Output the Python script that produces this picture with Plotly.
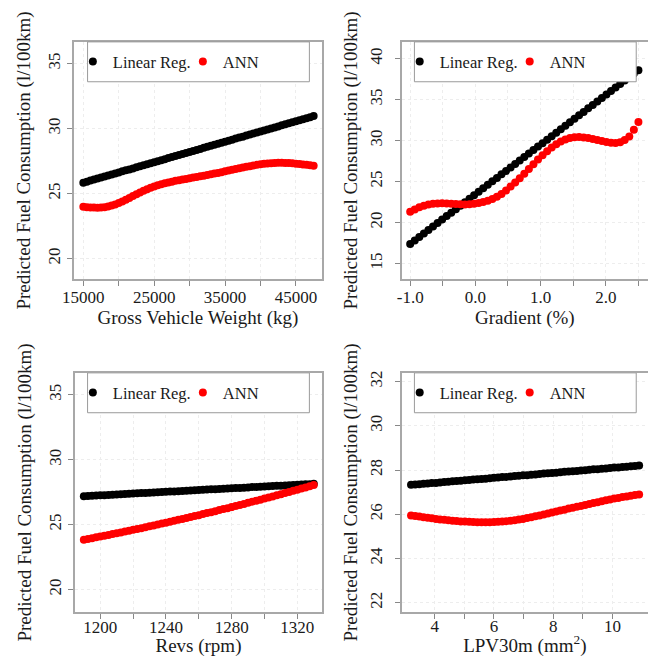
import plotly.graph_objects as go

# ---------------- DATA ----------------
# Panel 1: Gross Vehicle Weight (kg)
gvw_x = [15000, 15500, 16000, 16500, 17000, 17500, 18000, 18500, 19000, 19500,
         20000, 20500, 21000, 21500, 22000, 22500, 23000, 23500, 24000, 24500,
         25000, 25500, 26000, 26500, 27000, 27500, 28000, 28500, 29000, 29500,
         30000, 30500, 31000, 31500, 32000, 32500, 33000, 33500, 34000, 34500,
         35000, 35500, 36000, 36500, 37000, 37500, 38000, 38500, 39000, 39500,
         40000, 40500, 41000, 41500, 42000, 42500, 43000, 43500, 44000, 44500,
         45000, 45500, 46000, 46500, 47000, 47500]
gvw_lin = [25.83, 25.91, 25.99, 26.07, 26.15, 26.22, 26.30, 26.38, 26.46, 26.54,
           26.62, 26.70, 26.78, 26.85, 26.93, 27.01, 27.09, 27.17, 27.25, 27.33,
           27.41, 27.48, 27.56, 27.64, 27.72, 27.80, 27.88, 27.96, 28.04, 28.11,
           28.19, 28.27, 28.35, 28.43, 28.51, 28.59, 28.67, 28.74, 28.82, 28.90,
           28.98, 29.06, 29.14, 29.22, 29.30, 29.37, 29.45, 29.53, 29.61, 29.69,
           29.77, 29.85, 29.93, 30.00, 30.08, 30.16, 30.24, 30.32, 30.40, 30.48,
           30.56, 30.63, 30.71, 30.79, 30.87, 30.95]
gvw_ann = [23.98, 23.95, 23.93, 23.92, 23.91, 23.92, 23.95, 24.00, 24.07, 24.16,
           24.27, 24.39, 24.52, 24.66, 24.80, 24.94, 25.08, 25.21, 25.33, 25.44,
           25.54, 25.63, 25.71, 25.78, 25.85, 25.91, 25.97, 26.02, 26.07, 26.12,
           26.17, 26.22, 26.27, 26.32, 26.37, 26.42, 26.47, 26.53, 26.58, 26.64,
           26.70, 26.76, 26.82, 26.88, 26.94, 27.00, 27.05, 27.10, 27.15, 27.20,
           27.24, 27.28, 27.31, 27.33, 27.35, 27.36, 27.36, 27.35, 27.34, 27.32,
           27.29, 27.26, 27.23, 27.20, 27.17, 27.13]

# Panel 2: Gradient (%)
grad_x = [-1.00, -0.93, -0.86, -0.79, -0.72, -0.65, -0.58, -0.51, -0.44, -0.37,
          -0.30, -0.23, -0.16, -0.09, -0.02, 0.05, 0.12, 0.19, 0.26, 0.33,
          0.40, 0.47, 0.54, 0.61, 0.68, 0.75, 0.82, 0.89, 0.96, 1.03,
          1.10, 1.17, 1.24, 1.31, 1.38, 1.45, 1.52, 1.59, 1.66, 1.73,
          1.80, 1.87, 1.94, 2.01, 2.08, 2.15, 2.22, 2.29, 2.36, 2.43, 2.50]
grad_lin = [17.39, 17.81, 18.24, 18.66, 19.09, 19.51, 19.93, 20.36, 20.78, 21.20,
            21.63, 22.05, 22.48, 22.90, 23.32, 23.75, 24.17, 24.59, 25.02, 25.44,
            25.87, 26.29, 26.71, 27.14, 27.56, 27.99, 28.41, 28.83, 29.26, 29.68,
            30.10, 30.53, 30.95, 31.38, 31.80, 32.22, 32.65, 33.07, 33.49, 33.92,
            34.34, 34.77, 35.19, 35.61, 36.04, 36.46, 36.88, 37.31, 37.73, 38.16, 38.58]
grad_ann = [21.30, 21.60, 21.85, 22.05, 22.20, 22.28, 22.33, 22.34, 22.32, 22.29,
            22.25, 22.22, 22.21, 22.22, 22.28, 22.38, 22.50, 22.66, 22.88, 23.15,
            23.48, 23.90, 24.38, 24.88, 25.40, 25.95, 26.52, 27.10, 27.67, 28.20,
            28.70, 29.15, 29.55, 29.88, 30.12, 30.30, 30.40, 30.42, 30.38, 30.30,
            30.18, 30.05, 29.93, 29.82, 29.74, 29.70, 29.80, 30.05, 30.50, 31.30, 32.25]

# Panel 3: Revs (rpm)
revs_x = [1190, 1192.5, 1195, 1197.5, 1200, 1202.5, 1205, 1207.5, 1210, 1212.5,
          1215, 1217.5, 1220, 1222.5, 1225, 1227.5, 1230, 1232.5, 1235, 1237.5,
          1240, 1242.5, 1245, 1247.5, 1250, 1252.5, 1255, 1257.5, 1260, 1262.5,
          1265, 1267.5, 1270, 1272.5, 1275, 1277.5, 1280, 1282.5, 1285, 1287.5,
          1290, 1292.5, 1295, 1297.5, 1300, 1302.5, 1305, 1307.5, 1310, 1312.5,
          1315, 1317.5, 1320, 1322.5, 1325, 1327.5, 1330]
revs_lin = [27.19, 27.21, 27.22, 27.24, 27.26, 27.27, 27.29, 27.31, 27.33, 27.34,
            27.36, 27.38, 27.39, 27.41, 27.43, 27.44, 27.46, 27.48, 27.50, 27.51,
            27.53, 27.55, 27.56, 27.58, 27.60, 27.61, 27.63, 27.65, 27.66, 27.68,
            27.70, 27.72, 27.73, 27.75, 27.77, 27.78, 27.80, 27.82, 27.83, 27.85,
            27.87, 27.89, 27.90, 27.92, 27.94, 27.95, 27.97, 27.99, 28.00, 28.02,
            28.04, 28.06, 28.07, 28.09, 28.11, 28.12, 28.14]
revs_ann = [23.84, 23.90, 23.96, 24.02, 24.08, 24.15, 24.21, 24.27, 24.34, 24.40,
            24.47, 24.53, 24.60, 24.67, 24.73, 24.80, 24.87, 24.94, 25.01, 25.08,
            25.15, 25.22, 25.29, 25.37, 25.44, 25.51, 25.59, 25.66, 25.73, 25.81,
            25.89, 25.96, 26.04, 26.12, 26.20, 26.27, 26.35, 26.43, 26.51, 26.59,
            26.68, 26.76, 26.84, 26.92, 27.01, 27.09, 27.17, 27.26, 27.35, 27.43,
            27.52, 27.61, 27.69, 27.78, 27.87, 27.96, 28.05]

# Panel 4: LPV30m (mm^2)
lpv_x = [3.20, 3.34, 3.48, 3.62, 3.76, 3.90, 4.04, 4.18, 4.32, 4.46,
         4.60, 4.74, 4.88, 5.02, 5.16, 5.30, 5.44, 5.58, 5.72, 5.86,
         6.00, 6.14, 6.28, 6.42, 6.56, 6.70, 6.84, 6.98, 7.12, 7.26,
         7.40, 7.54, 7.68, 7.82, 7.96, 8.10, 8.24, 8.38, 8.52, 8.66,
         8.80, 8.94, 9.08, 9.22, 9.36, 9.50, 9.64, 9.78, 9.92, 10.06,
         10.20, 10.34, 10.48, 10.62, 10.76, 10.90]
lpv_lin = [27.33, 27.35, 27.36, 27.38, 27.39, 27.41, 27.42, 27.44, 27.46, 27.47,
           27.49, 27.50, 27.52, 27.54, 27.55, 27.57, 27.58, 27.60, 27.61, 27.63,
           27.65, 27.66, 27.68, 27.69, 27.71, 27.73, 27.74, 27.76, 27.77, 27.79,
           27.80, 27.82, 27.84, 27.85, 27.87, 27.88, 27.90, 27.92, 27.93, 27.95,
           27.96, 27.98, 27.99, 28.01, 28.03, 28.04, 28.06, 28.07, 28.09, 28.11,
           28.12, 28.14, 28.15, 28.17, 28.18, 28.20]
lpv_ann = [25.95, 25.92, 25.90, 25.87, 25.84, 25.82, 25.79, 25.77, 25.75, 25.73,
           25.71, 25.70, 25.68, 25.67, 25.66, 25.65, 25.64, 25.64, 25.64, 25.64,
           25.65, 25.66, 25.67, 25.69, 25.71, 25.73, 25.76, 25.79, 25.83, 25.87,
           25.91, 25.95, 25.99, 26.04, 26.08, 26.13, 26.17, 26.21, 26.26, 26.30,
           26.34, 26.38, 26.42, 26.47, 26.51, 26.55, 26.59, 26.63, 26.67, 26.71,
           26.74, 26.78, 26.81, 26.84, 26.87, 26.90]

series_names = ["Linear Reg.", "ANN"]
series_colors = ["#000000", "#ff0000"]
y_title = "Predicted Fuel Consumption (l/100km)"
x_titles = ["Gross Vehicle Weight (kg)", "Gradient (%)", "Revs (rpm)", "LPV30m (mm<sup>2</sup>)"]

# tick values / labels
x1_tickvals = [15000, 20000, 25000, 30000, 35000, 40000, 45000]
x1_ticktext = ["15000", "", "25000", "", "35000", "", "45000"]
x2_tickvals = [-1.0, -0.5, 0.0, 0.5, 1.0, 1.5, 2.0, 2.5]
x2_ticktext = ["-1.0", "", "0.0", "", "1.0", "", "2.0", ""]
x3_tickvals = [1200, 1220, 1240, 1260, 1280, 1300, 1320]
x3_ticktext = ["1200", "", "1240", "", "1280", "", "1320"]
x4_tickvals = [4, 5, 6, 7, 8, 9, 10]
x4_ticktext = ["4", "", "6", "", "8", "", "10"]
y1_tickvals = [20, 25, 30, 35]
y2_tickvals = [15, 20, 25, 30, 35, 40]
y3_tickvals = [20, 25, 30, 35]
y4_tickvals = [22, 24, 26, 28, 30, 32]

# ---------------- LAYOUT GEOMETRY (pixels) ----------------
W, H = 648, 657
def px(x):
    return x / W
def py(y):
    return 1 - y / H

FONT = "Liberation Serif"
GRID = "#ededed"
FRAME = "#a8a8a8"

panels = [
    dict(x=gvw_x, ys=[gvw_lin, gvw_ann], xd=[63, 316], yd=[40, 278],
         xr=[13660, 48700], yr=[18.41, 36.66], xtv=x1_tickvals, xtt=x1_ticktext,
         ytv=y1_tickvals, right_open=False, leg=[77, 303, 40, 80],
         xls=-3, xts=0, yls=0, yts=10),
    dict(x=grad_x, ys=[grad_lin, grad_ann], xd=[397, 648], yd=[40, 278],
         xr=[-1.131, 2.647], yr=[13.09, 42.03], xtv=x2_tickvals, xtt=x2_ticktext,
         ytv=y2_tickvals, right_open=True, leg=[410, 636, 40, 80],
         xls=-3, xts=0, yls=6, yts=4),
    dict(x=revs_x, ys=[revs_lin, revs_ann], xd=[64, 316], yd=[372, 612],
         xr=[1184.5, 1335.1], yr=[18.26, 36.69], xtv=x3_tickvals, xtt=x3_ticktext,
         ytv=y3_tickvals, right_open=False, leg=[77, 303, 372, 412],
         xls=-6, xts=0, yls=0, yts=10),
    dict(x=lpv_x, ys=[lpv_lin, lpv_ann], xd=[397, 648], yd=[372, 612],
         xr=[2.883, 11.20], yr=[21.58, 32.39], xtv=x4_tickvals, xtt=x4_ticktext,
         ytv=y4_tickvals, right_open=True, leg=[410, 636, 372, 412],
         xls=-7, xts=0, yls=6, yts=4),
]

fig = go.Figure()
shapes = []
layout = dict(width=W, height=H, margin=dict(l=0, r=0, t=0, b=0),
              paper_bgcolor="white", plot_bgcolor="white", showlegend=True,
              font=dict(family=FONT, color="#1a1a1a"))

for i, p in enumerate(panels):
    n = i + 1
    sfx = "" if n == 1 else str(n)
    legname = "legend" if n == 1 else "legend%d" % n
    for name, col, yv in zip(series_names, series_colors, p["ys"]):
        fig.add_trace(go.Scatter(
            x=p["x"], y=yv, mode="markers", name=name,
            marker=dict(color=col, size=8, line=dict(width=0)),
            xaxis="x" + sfx, yaxis="y" + sfx, legend=legname, showlegend=True))
    layout["xaxis" + sfx] = dict(
        domain=[px(p["xd"][0]), px(p["xd"][1])], range=p["xr"], anchor="y" + sfx,
        tickmode="array", tickvals=p["xtv"], ticktext=p["xtt"],
        ticks="outside", ticklen=5, tickcolor="#888", tickwidth=1,
        ticklabelstandoff=p["xls"],
        showline=True, linecolor=FRAME, linewidth=1.5, mirror=True,
        showgrid=True, gridcolor=GRID, griddash="dot", gridwidth=1,
        zeroline=False, tickfont=dict(family=FONT, size=17, color="#1a1a1a"),
        title=dict(text=x_titles[i], font=dict(family=FONT, size=19, color="#1a1a1a"),
                   standoff=p["xts"]))
    layout["yaxis" + sfx] = dict(
        domain=[py(p["yd"][1]), py(p["yd"][0])], range=p["yr"], anchor="x" + sfx,
        tickmode="array", tickvals=p["ytv"], tickangle=-90,
        ticks="outside", ticklen=5, tickcolor="#888", tickwidth=1,
        ticklabelstandoff=p["yls"],
        showline=True, linecolor=FRAME, linewidth=1.5,
        mirror=(not p["right_open"]),
        showgrid=True, gridcolor=GRID, griddash="dot", gridwidth=1,
        zeroline=False, tickfont=dict(family=FONT, size=17, color="#1a1a1a"),
        title=dict(text=y_title, font=dict(family=FONT, size=19, color="#1a1a1a"),
                   standoff=p["yts"]))
    l0, l1, t0, t1 = p["leg"]
    shapes.append(dict(type="rect", xref="paper", yref="paper",
                       x0=px(l0), x1=px(l1), y0=py(t1), y1=py(t0),
                       line=dict(color="#9a9a9a", width=1), fillcolor="white", layer="above"))
    layout[legname] = dict(
        x=px(l0 - 15), y=py((t0 + t1) / 2), xanchor="left", yanchor="middle",
        orientation="h", bgcolor="rgba(0,0,0,0)", borderwidth=0,
        entrywidth=65, entrywidthmode="pixels",
        font=dict(family=FONT, size=16.5, color="#1a1a1a"))

layout["shapes"] = shapes
fig.update_layout(**layout)
fig.write_html("out.html")
